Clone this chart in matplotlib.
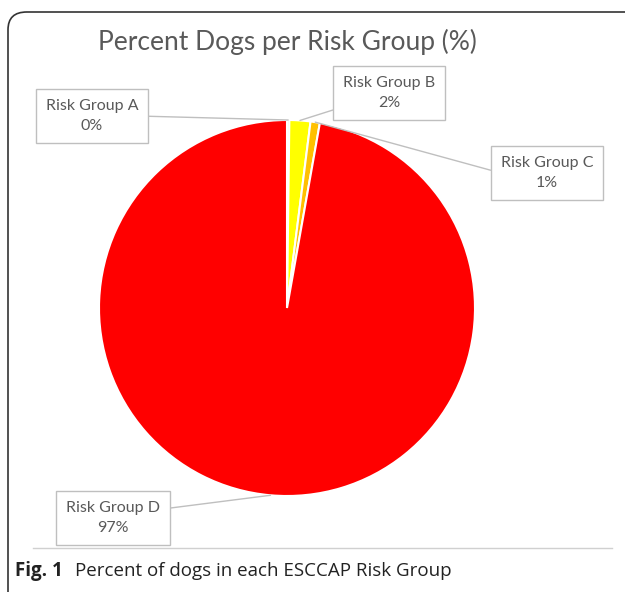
import numpy as np
import matplotlib.pyplot as plt
from matplotlib.patches import FancyBboxPatch
from matplotlib.lines import Line2D

groups = ['Risk Group A', 'Risk Group B', 'Risk Group C', 'Risk Group D']
percents = [0.2, 1.8, 0.8, 97.2]
colors = ['#92d050', '#ffff00', '#ffc000', '#ff0000']

W, H = 625, 592
fig = plt.figure(figsize=(W / 100, H / 100), dpi=100)

# rounded frame around the figure panel
fig.patches.append(FancyBboxPatch((8 / W, -20 / H), (W + 20) / W, (H - 12 + 20) / H,
                                  boxstyle='round,pad=0,rounding_size=0.03',
                                  transform=fig.transFigure, fill=False,
                                  edgecolor='#333333', linewidth=1.2))

cx, cy, r = 287, 308, 188
ax = fig.add_axes([(cx - r) / W, (H - cy - r) / H, 2 * r / W, 2 * r / H])
wedges, _ = ax.pie(percents, colors=colors, startangle=90, counterclock=False,
                   radius=1, wedgeprops=dict(edgecolor='white', linewidth=1.5))
ax.set_xlim(-1, 1)
ax.set_ylim(-1, 1)
ax.set_aspect('equal')
ax.axis('off')

fig.text(287 / W, 1 - 42 / H, 'Percent Dogs per Risk Group (%)', ha='center', va='center',
         fontsize=19, color='#595959', family='Lato')

# label box centres (pixels) and the point of the box the leader leaves from
box_pos = [(92, 116), (389, 93), (547, 173), (113, 518)]
rel = [(1, 0.5), (0, 0.1), (0, 0.5), (1, 0.75)]
for w, g, p, pos, rp in zip(wedges, groups, percents, box_pos, rel):
    ang = np.deg2rad((w.theta1 + w.theta2) / 2)
    xy = (np.cos(ang), np.sin(ang))
    ax.annotate(f'{g}\n{round(p):.0f}%', xy=xy, xycoords='data',
                xytext=(pos[0] / W, 1 - pos[1] / H), textcoords='figure fraction',
                ha='center', va='center', fontsize=11.5, color='#595959', family='Lato',
                linespacing=1.6,
                bbox=dict(boxstyle='square,pad=0.6', facecolor='white', edgecolor='#bfbfbf', linewidth=1),
                arrowprops=dict(arrowstyle='-', color='#bfbfbf', linewidth=1, relpos=rp,
                                shrinkA=0, shrinkB=0))

fig.lines.append(Line2D([33 / W, 612 / W], [1 - 548 / H, 1 - 548 / H], transform=fig.transFigure,
                        color='#d0d0d0', linewidth=1))
fig.text(15 / W, 1 - 571 / H, 'Fig. 1', fontsize=13.5, fontweight='bold', family='Open Sans',
         va='center', color='#222222')
fig.text(75 / W, 1 - 571 / H, 'Percent of dogs in each ESCCAP Risk Group', fontsize=13.5,
         family='Open Sans', va='center', color='#222222')

fig.savefig('out.png', dpi=100)
